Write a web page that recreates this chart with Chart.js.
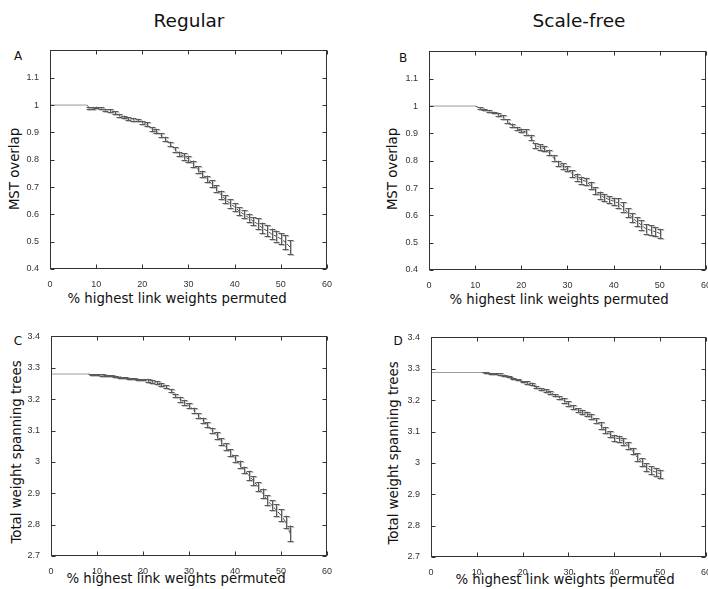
<!DOCTYPE html>
<html>
<head>
<meta charset="utf-8">
<script src="https://cdn.jsdelivr.net/npm/chart.js@4/dist/chart.umd.min.js"></script>
<style>
  html, body { margin: 0; padding: 0; background: #fff; }
  body { width: 708px; height: 589px; position: relative; overflow: hidden; font-family: "DejaVu Sans", Verdana, sans-serif; color: #111; }
  canvas { position: absolute; }
  .t { position: absolute; white-space: nowrap; transform: translate(-50%, -50%); line-height: 1; }
  .rot { transform: translate(-50%, -50%) rotate(-90deg); }
</style>
</head>
<body>
<div class="t" style="left:189px;top:21px;font-size:18.5px">Regular</div>
<div class="t" style="left:579px;top:21px;font-size:18.5px">Scale-free</div>

<div class="t" style="left:18px;top:56px;font-size:12px">A</div>
<div class="t" style="left:403px;top:58px;font-size:12px">B</div>
<div class="t" style="left:18px;top:341px;font-size:12px">C</div>
<div class="t" style="left:398px;top:341px;font-size:12px">D</div>

<div class="t rot" style="left:15px;top:169px;font-size:13.3px">MST overlap</div>
<div class="t rot" style="left:393px;top:169px;font-size:13.3px">MST overlap</div>
<div class="t rot" style="left:17px;top:452px;font-size:13.3px">Total weight spanning trees</div>
<div class="t rot" style="left:394px;top:453px;font-size:13.3px">Total weight spanning trees</div>

<div class="t" style="left:177px;top:299px;font-size:13.3px">% highest link weights permuted</div>
<div class="t" style="left:559px;top:300px;font-size:13.3px">% highest link weights permuted</div>
<div class="t" style="left:176px;top:579px;font-size:13.3px">% highest link weights permuted</div>
<div class="t" style="left:565px;top:580px;font-size:13.3px">% highest link weights permuted</div>

<canvas id="chartA" width="314" height="247" style="left:20px;top:42px"></canvas>
<canvas id="chartB" width="314" height="247" style="left:399px;top:43px"></canvas>
<canvas id="chartC" width="313" height="248" style="left:21px;top:328px"></canvas>
<canvas id="chartD" width="312" height="248" style="left:401px;top:329px"></canvas>

<script>
// % highest link weights permuted
const xA = [0, 8, 8.5, 9, 10, 11, 12, 13, 14, 15, 16, 17, 18, 19, 20, 21, 22, 23, 24, 25, 26, 27, 28, 29, 30,
  31, 32, 33, 34, 35, 36, 37, 38, 39, 40, 41, 42, 43, 44, 45, 46, 47, 48, 49, 50, 51, 52];
const yA = [1.0, 1.0, 0.990, 0.990, 0.991, 0.990, 0.982, 0.980, 0.972, 0.963, 0.956, 0.950, 0.948, 0.945, 0.937,
  0.930, 0.912, 0.905, 0.890, 0.876, 0.858, 0.838, 0.822, 0.812, 0.803, 0.785, 0.765, 0.748, 0.730, 0.712,
  0.695, 0.672, 0.655, 0.640, 0.627, 0.612, 0.600, 0.588, 0.575, 0.565, 0.550, 0.540, 0.528, 0.520, 0.510,
  0.498, 0.480];
const eA = [0, 0, 0.003, 0.003, 0.003, 0.003, 0.003, 0.005, 0.005, 0.005, 0.005, 0.005, 0.005, 0.005, 0.005,
  0.008, 0.008, 0.008, 0.008, 0.008, 0.008, 0.008, 0.008, 0.012, 0.012, 0.012, 0.012, 0.012, 0.012, 0.012,
  0.012, 0.015, 0.015, 0.015, 0.015, 0.015, 0.015, 0.015, 0.015, 0.02, 0.02, 0.02, 0.02, 0.02, 0.02,
  0.025, 0.025];

const xB = [0, 10, 11, 12, 13, 14, 15, 16, 17, 18, 19, 20, 21, 22, 23, 24, 25, 26, 27, 28, 29, 30,
  31, 32, 33, 34, 35, 36, 37, 38, 39, 40, 41, 42, 43, 44, 45, 46, 47, 48, 49, 50];
const yB = [1.0, 1.0, 0.993, 0.988, 0.983, 0.976, 0.970, 0.960, 0.945, 0.930, 0.918, 0.911, 0.905, 0.885,
  0.855, 0.850, 0.844, 0.830, 0.810, 0.790, 0.780, 0.771, 0.752, 0.740, 0.729, 0.725, 0.710, 0.690, 0.674,
  0.665, 0.658, 0.652, 0.645, 0.631, 0.610, 0.592, 0.577, 0.565, 0.550, 0.546, 0.540, 0.534];
const eB = [0, 0, 0.003, 0.003, 0.003, 0.003, 0.006, 0.006, 0.006, 0.006, 0.006, 0.006,
  0.01, 0.01, 0.01, 0.01, 0.01, 0.01, 0.01, 0.01, 0.01, 0.01, 0.013, 0.013, 0.013, 0.013, 0.013,
  0.013, 0.013, 0.013, 0.013, 0.013, 0.017, 0.017, 0.017, 0.017, 0.017, 0.017, 0.017, 0.017, 0.017, 0.017];

const xC = [0, 8, 9, 10, 11, 12, 13, 14, 15, 16, 17, 18, 19, 20, 21, 22, 23, 24, 25, 26, 27, 28, 29, 30,
  31, 32, 33, 34, 35, 36, 37, 38, 39, 40, 41, 42, 43, 44, 45, 46, 47, 48, 49, 50, 51, 52];
const yC = [3.280, 3.280, 3.278, 3.278, 3.277, 3.276, 3.275, 3.273, 3.270, 3.268, 3.266, 3.265, 3.263, 3.262,
  3.260, 3.257, 3.252, 3.247, 3.240, 3.228, 3.212, 3.200, 3.190, 3.180, 3.165, 3.148, 3.133, 3.118, 3.101,
  3.085, 3.065, 3.048, 3.030, 3.011, 2.993, 2.974, 2.957, 2.940, 2.921, 2.900, 2.878, 2.862, 2.846, 2.830,
  2.809, 2.772];
const eC = [0, 0, 0.002, 0.002, 0.002, 0.002, 0.002, 0.002, 0.002, 0.002, 0.002, 0.002, 0.002, 0.002,
  0.005, 0.005, 0.005, 0.005, 0.005, 0.005, 0.005, 0.008, 0.008, 0.008, 0.008, 0.008, 0.008, 0.008, 0.008,
  0.011, 0.011, 0.011, 0.011, 0.011, 0.011, 0.011, 0.015, 0.015, 0.015, 0.015, 0.015, 0.015, 0.02, 0.02,
  0.02, 0.025];

const xD = [0, 11, 12, 13, 14, 15, 16, 17, 18, 19, 20, 21, 22, 23, 24, 25, 26, 27, 28, 29, 30,
  31, 32, 33, 34, 35, 36, 37, 38, 39, 40, 41, 42, 43, 44, 45, 46, 47, 48, 49, 50];
const yD = [3.288, 3.288, 3.287, 3.285, 3.284, 3.283, 3.279, 3.276, 3.270, 3.265, 3.259, 3.256, 3.252, 3.242,
  3.235, 3.230, 3.225, 3.216, 3.209, 3.199, 3.189, 3.178, 3.168, 3.162, 3.156, 3.148, 3.135, 3.119, 3.105,
  3.092, 3.080, 3.077, 3.068, 3.055, 3.038, 3.018, 3.002, 2.986, 2.976, 2.971, 2.965];
const eD = [0, 0, 0.002, 0.002, 0.002, 0.002, 0.002, 0.002, 0.002, 0.002, 0.002, 0.004, 0.004, 0.004, 0.004,
  0.004, 0.004, 0.004, 0.004, 0.007, 0.007, 0.007, 0.007, 0.007, 0.007, 0.007, 0.007, 0.01, 0.01, 0.01,
  0.01, 0.01, 0.01, 0.01, 0.01, 0.013, 0.013, 0.013, 0.013, 0.013, 0.013];

const xTicks = [0, 10, 20, 30, 40, 50, 60];

// error bars + matlab style box with inward ticks
const errPlugin = {
  id: 'errbars',
  afterDatasetsDraw(chart, args, opts) {
    const ctx = chart.ctx;
    const xs = chart.scales.x, ys = chart.scales.y;
    const data = chart.data.datasets[0].data;
    const err = opts.err || [];
    const cap = 3;
    ctx.save();
    [['#c4c4c4', 1, 1], ['#5a5a5a', 0, 0]].forEach(([col, dx, dy]) => {
      ctx.strokeStyle = col;
      ctx.lineWidth = 1;
      ctx.beginPath();
      data.forEach((p, i) => {
        const e = err[i];
        if (!e) return;
        const px = Math.round(xs.getPixelForValue(p.x)) + 0.5 + dx;
        const top = ys.getPixelForValue(p.y + e) + dy;
        const bot = ys.getPixelForValue(p.y - e) + dy;
        ctx.moveTo(px, top); ctx.lineTo(px, bot);
        ctx.moveTo(px - cap, Math.round(top) + 0.5); ctx.lineTo(px + cap, Math.round(top) + 0.5);
        ctx.moveTo(px - cap, Math.round(bot) + 0.5); ctx.lineTo(px + cap, Math.round(bot) + 0.5);
      });
      ctx.stroke();
    });
    ctx.restore();
  },
  afterDraw(chart) {
    const ctx = chart.ctx;
    const a = chart.chartArea;
    const L = Math.round(a.left) + 0.5, R = Math.round(a.right) - 0.5;
    const T = Math.round(a.top) + 0.5, B = Math.round(a.bottom) - 0.5;
    ctx.save();
    ctx.strokeStyle = '#333';
    ctx.lineWidth = 1;
    ctx.strokeRect(L, T, R - L, B - T);
    ctx.beginPath();
    const tl = 4;
    chart.scales.x.ticks.forEach(t => {
      const px = Math.round(chart.scales.x.getPixelForValue(t.value)) + 0.5;
      ctx.moveTo(px, B); ctx.lineTo(px, B - tl);
      ctx.moveTo(px, T); ctx.lineTo(px, T + tl);
    });
    chart.scales.y.ticks.forEach(t => {
      const py = Math.round(chart.scales.y.getPixelForValue(t.value)) + 0.5;
      ctx.moveTo(L, py); ctx.lineTo(L + tl, py);
      ctx.moveTo(R, py); ctx.lineTo(R - tl, py);
    });
    ctx.stroke();
    ctx.restore();
  }
};

function makePanel(id, xs, ys, es, yMin, yMax, hideTop) {
  const pts = xs.map((x, i) => ({ x: x, y: ys[i] }));
  return new Chart(document.getElementById(id), {
    type: 'line',
    data: {
      datasets: [{
        data: pts,
        borderColor: '#555',
        borderWidth: 1,
        pointRadius: 0,
        tension: 0,
        segment: {
          borderColor: c => (es[c.p0DataIndex] === 0 && es[c.p1DataIndex] === 0) ? '#9a9a9a' : '#555'
        }
      }]
    },
    options: {
      responsive: false,
      animation: false,
      events: [],
      layout: { padding: { top: 8, right: 5, left: 0, bottom: 0 } },
      plugins: {
        legend: { display: false },
        tooltip: { enabled: false },
        errbars: { err: es }
      },
      scales: {
        x: {
          type: 'linear',
          min: 0,
          max: 60,
          afterBuildTicks: s => { s.ticks = xTicks.map(v => ({ value: v })); },
          ticks: {
            font: { family: 'Liberation Sans, Arial', size: 9 },
            color: '#333',
            padding: 2,
            maxRotation: 0,
            callback: v => String(v)
          },
          grid: { display: false },
          border: { display: false },
          afterFit: s => { s.height = 20; }
        },
        y: {
          min: yMin,
          max: yMax,
          ticks: {
            stepSize: 0.1,
            font: { family: 'Liberation Sans, Arial', size: 9 },
            color: '#333',
            padding: 3,
            callback: v => {
              const r = Math.round(v * 10) / 10;
              if (hideTop && Math.abs(r - yMax) < 1e-6) return '';
              return String(r);
            }
          },
          grid: { display: false },
          border: { display: false },
          afterFit: s => { s.width = 30; }
        }
      }
    },
    plugins: [errPlugin]
  });
}

makePanel('chartA', xA, yA, eA, 0.4, 1.2, true);
makePanel('chartB', xB, yB, eB, 0.4, 1.2, true);
makePanel('chartC', xC, yC, eC, 2.7, 3.4, false);
makePanel('chartD', xD, yD, eD, 2.7, 3.4, false);
</script>
</body>
</html>
